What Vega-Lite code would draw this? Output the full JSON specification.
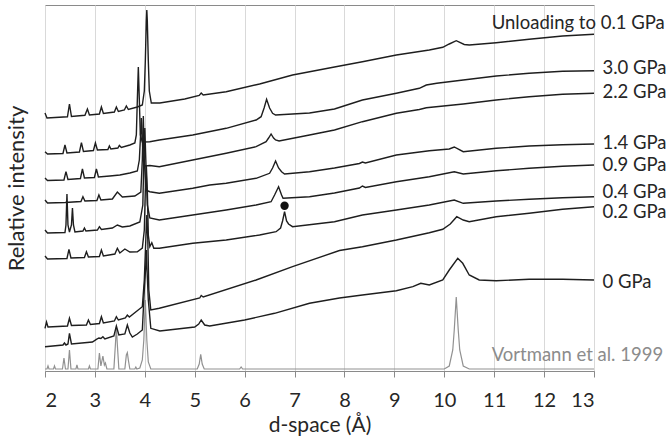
{
  "$schema": "https://vega.github.io/schema/vega-lite/v6.json",
  "width": 549,
  "height": 366,
  "autosize": {"type": "none"},
  "padding": {"left": 45, "top": 5, "right": 73, "bottom": 72},
  "background": "white",
  "config": {"view": {"stroke": "#8a8a8a", "strokeWidth": 1}, "font": "Lato"},
  "datasets": {
    "curves": [
      {"s":"u","x":2,"y":258},{"s":"u","x":2.04,"y":253},{"s":"u","x":2.2,"y":253.5},{"s":"u","x":2.45,"y":254.2},{"s":"u","x":2.49,"y":267},{"s":"u","x":2.53,"y":254.5},{"s":"u","x":2.8,"y":255.7},{"s":"u","x":2.85,"y":262},{"s":"u","x":2.89,"y":256},{"s":"u","x":3.09,"y":257},{"s":"u","x":3.13,"y":264},{"s":"u","x":3.17,"y":257.5},{"s":"u","x":3.39,"y":259},{"s":"u","x":3.43,"y":264},{"s":"u","x":3.47,"y":259.5},{"s":"u","x":3.59,"y":261},{"s":"u","x":3.63,"y":265},{"s":"u","x":3.67,"y":261.5},{"s":"u","x":3.85,"y":264},{"s":"u","x":3.95,"y":266},{"s":"u","x":3.99,"y":280},{"s":"u","x":4.01,"y":310},{"s":"u","x":4.03,"y":350},{"s":"u","x":4.04,"y":361},{"s":"u","x":4.05,"y":350},{"s":"u","x":4.07,"y":310},{"s":"u","x":4.09,"y":280},{"s":"u","x":4.13,"y":268},{"s":"u","x":4.3,"y":268},{"s":"u","x":4.8,"y":272},{"s":"u","x":5.09,"y":275.5},{"s":"u","x":5.13,"y":278},{"s":"u","x":5.17,"y":276},{"s":"u","x":5.63,"y":279.3},{"s":"u","x":6.3,"y":287},{"s":"u","x":6.96,"y":296},{"s":"u","x":7.8,"y":304},{"s":"u","x":8.36,"y":309.3},{"s":"u","x":9.04,"y":316},{"s":"u","x":9.7,"y":321},{"s":"u","x":9.97,"y":323.7},{"s":"u","x":10.1,"y":327},{"s":"u","x":10.24,"y":330.3},{"s":"u","x":10.4,"y":326.5},{"s":"u","x":10.5,"y":326},{"s":"u","x":11.04,"y":328.3},{"s":"u","x":11.7,"y":331.7},{"s":"u","x":12.37,"y":335},{"s":"u","x":13,"y":336.7},

      {"s":"3.0","x":2,"y":219.3},{"s":"3.0","x":2.05,"y":217},{"s":"3.0","x":2.36,"y":217.5},{"s":"3.0","x":2.4,"y":226},{"s":"3.0","x":2.44,"y":218},{"s":"3.0","x":2.69,"y":219},{"s":"3.0","x":2.73,"y":228.3},{"s":"3.0","x":2.77,"y":219.5},{"s":"3.0","x":2.97,"y":220.5},{"s":"3.0","x":3.01,"y":228},{"s":"3.0","x":3.05,"y":221},{"s":"3.0","x":3.26,"y":221.5},{"s":"3.0","x":3.29,"y":225},{"s":"3.0","x":3.32,"y":222},{"s":"3.0","x":3.46,"y":223},{"s":"3.0","x":3.49,"y":225.5},{"s":"3.0","x":3.53,"y":223.5},{"s":"3.0","x":3.7,"y":226},{"s":"3.0","x":3.8,"y":228},{"s":"3.0","x":3.83,"y":236},{"s":"3.0","x":3.85,"y":271},{"s":"3.0","x":3.87,"y":304},{"s":"3.0","x":3.89,"y":271},{"s":"3.0","x":3.91,"y":236},{"s":"3.0","x":3.95,"y":229},{"s":"3.0","x":4.1,"y":229.3},{"s":"3.0","x":4.29,"y":231},{"s":"3.0","x":4.96,"y":236},{"s":"3.0","x":5.63,"y":242.7},{"s":"3.0","x":6.23,"y":251},{"s":"3.0","x":6.33,"y":254.3},{"s":"3.0","x":6.39,"y":263},{"s":"3.0","x":6.44,"y":271.7},{"s":"3.0","x":6.5,"y":263},{"s":"3.0","x":6.56,"y":257.7},{"s":"3.0","x":6.62,"y":256},{"s":"3.0","x":7.3,"y":258},{"s":"3.0","x":7.8,"y":262},{"s":"3.0","x":8.36,"y":271},{"s":"3.0","x":9.04,"y":277.7},{"s":"3.0","x":9.5,"y":282.7},{"s":"3.0","x":9.64,"y":286},{"s":"3.0","x":9.85,"y":287.7},{"s":"3.0","x":10.38,"y":291},{"s":"3.0","x":11.04,"y":295},{"s":"3.0","x":11.7,"y":297.7},{"s":"3.0","x":12.37,"y":299.7},{"s":"3.0","x":13,"y":300.3},

      {"s":"2.2","x":2,"y":193},{"s":"2.2","x":2.05,"y":190.5},{"s":"2.2","x":2.38,"y":191},{"s":"2.2","x":2.42,"y":199.3},{"s":"2.2","x":2.46,"y":191.5},{"s":"2.2","x":2.71,"y":192.5},{"s":"2.2","x":2.75,"y":202},{"s":"2.2","x":2.79,"y":193},{"s":"2.2","x":2.99,"y":193.5},{"s":"2.2","x":3.03,"y":202},{"s":"2.2","x":3.07,"y":194},{"s":"2.2","x":3.3,"y":195},{"s":"2.2","x":3.5,"y":196},{"s":"2.2","x":3.7,"y":198},{"s":"2.2","x":3.85,"y":200},{"s":"2.2","x":3.89,"y":211},{"s":"2.2","x":3.91,"y":231},{"s":"2.2","x":3.93,"y":253},{"s":"2.2","x":3.95,"y":231},{"s":"2.2","x":3.97,"y":211},{"s":"2.2","x":4,"y":205},{"s":"2.2","x":4.1,"y":205.5},{"s":"2.2","x":4.29,"y":204.3},{"s":"2.2","x":4.96,"y":211},{"s":"2.2","x":5.63,"y":217.7},{"s":"2.2","x":6.23,"y":224.3},{"s":"2.2","x":6.43,"y":229.3},{"s":"2.2","x":6.48,"y":233},{"s":"2.2","x":6.53,"y":237},{"s":"2.2","x":6.58,"y":233},{"s":"2.2","x":6.62,"y":231},{"s":"2.2","x":6.69,"y":230},{"s":"2.2","x":7.3,"y":236},{"s":"2.2","x":7.8,"y":241},{"s":"2.2","x":8.36,"y":249.3},{"s":"2.2","x":9.04,"y":257.7},{"s":"2.2","x":9.5,"y":261.5},{"s":"2.2","x":9.64,"y":263.3},{"s":"2.2","x":10.38,"y":267},{"s":"2.2","x":11.04,"y":271},{"s":"2.2","x":11.7,"y":274.3},{"s":"2.2","x":12.37,"y":276.7},{"s":"2.2","x":13,"y":277.7},

      {"s":"1.4","x":2,"y":171},{"s":"1.4","x":2.05,"y":168},{"s":"1.4","x":2.4,"y":168.5},{"s":"1.4","x":2.72,"y":169.5},{"s":"1.4","x":2.76,"y":174.3},{"s":"1.4","x":2.8,"y":170},{"s":"1.4","x":3.04,"y":170.5},{"s":"1.4","x":3.08,"y":176},{"s":"1.4","x":3.12,"y":171},{"s":"1.4","x":3.35,"y":172},{"s":"1.4","x":3.45,"y":179},{"s":"1.4","x":3.55,"y":174},{"s":"1.4","x":3.8,"y":175},{"s":"1.4","x":3.92,"y":179},{"s":"1.4","x":3.95,"y":211},{"s":"1.4","x":3.97,"y":255},{"s":"1.4","x":3.99,"y":211},{"s":"1.4","x":4.02,"y":181},{"s":"1.4","x":4.1,"y":179.3},{"s":"1.4","x":4.29,"y":177.7},{"s":"1.4","x":4.96,"y":182.7},{"s":"1.4","x":5.3,"y":186},{"s":"1.4","x":5.63,"y":187.7},{"s":"1.4","x":6.23,"y":192.7},{"s":"1.4","x":6.5,"y":197.7},{"s":"1.4","x":6.56,"y":203},{"s":"1.4","x":6.62,"y":210},{"s":"1.4","x":6.68,"y":203},{"s":"1.4","x":6.74,"y":199.3},{"s":"1.4","x":6.8,"y":197},{"s":"1.4","x":7.3,"y":199.3},{"s":"1.4","x":7.8,"y":203},{"s":"1.4","x":8.3,"y":207.5},{"s":"1.4","x":8.36,"y":209},{"s":"1.4","x":8.42,"y":208},{"s":"1.4","x":9.04,"y":216},{"s":"1.4","x":9.7,"y":220.3},{"s":"1.4","x":10.1,"y":222},{"s":"1.4","x":10.2,"y":224},{"s":"1.4","x":10.38,"y":219.3},{"s":"1.4","x":11.04,"y":222.7},{"s":"1.4","x":11.7,"y":225},{"s":"1.4","x":12.37,"y":226.3},{"s":"1.4","x":13,"y":227},

      {"s":"0.9","x":2,"y":141},{"s":"0.9","x":2.05,"y":138},{"s":"0.9","x":2.4,"y":138.5},{"s":"0.9","x":2.42,"y":146},{"s":"0.9","x":2.44,"y":177},{"s":"0.9","x":2.46,"y":146},{"s":"0.9","x":2.49,"y":139},{"s":"0.9","x":2.53,"y":146},{"s":"0.9","x":2.55,"y":163},{"s":"0.9","x":2.57,"y":146},{"s":"0.9","x":2.6,"y":139},{"s":"0.9","x":2.76,"y":140},{"s":"0.9","x":2.79,"y":143},{"s":"0.9","x":2.82,"y":140},{"s":"0.9","x":3.05,"y":141},{"s":"0.9","x":3.09,"y":144.3},{"s":"0.9","x":3.13,"y":141.5},{"s":"0.9","x":3.35,"y":143},{"s":"0.9","x":3.45,"y":146},{"s":"0.9","x":3.55,"y":144},{"s":"0.9","x":3.7,"y":145},{"s":"0.9","x":3.9,"y":149},{"s":"0.9","x":3.96,"y":166},{"s":"0.9","x":3.98,"y":211},{"s":"0.9","x":4,"y":243},{"s":"0.9","x":4.02,"y":211},{"s":"0.9","x":4.05,"y":166},{"s":"0.9","x":4.1,"y":153},{"s":"0.9","x":4.29,"y":151},{"s":"0.9","x":4.96,"y":156},{"s":"0.9","x":5.63,"y":161},{"s":"0.9","x":6.23,"y":166},{"s":"0.9","x":6.53,"y":169.3},{"s":"0.9","x":6.6,"y":176},{"s":"0.9","x":6.68,"y":184.3},{"s":"0.9","x":6.74,"y":176},{"s":"0.9","x":6.77,"y":172.7},{"s":"0.9","x":7.3,"y":174.3},{"s":"0.9","x":7.8,"y":178},{"s":"0.9","x":8.3,"y":183},{"s":"0.9","x":8.36,"y":185},{"s":"0.9","x":8.42,"y":183.5},{"s":"0.9","x":9.04,"y":189.3},{"s":"0.9","x":9.7,"y":194.3},{"s":"0.9","x":10.2,"y":199.3},{"s":"0.9","x":10.38,"y":197},{"s":"0.9","x":11.04,"y":200.3},{"s":"0.9","x":11.7,"y":202.7},{"s":"0.9","x":12.37,"y":204.7},{"s":"0.9","x":13,"y":206},

      {"s":"0.4","x":2,"y":115},{"s":"0.4","x":2.05,"y":112},{"s":"0.4","x":2.44,"y":112.5},{"s":"0.4","x":2.48,"y":121.7},{"s":"0.4","x":2.52,"y":113},{"s":"0.4","x":2.79,"y":113.5},{"s":"0.4","x":2.83,"y":119.3},{"s":"0.4","x":2.87,"y":114},{"s":"0.4","x":3.09,"y":114.5},{"s":"0.4","x":3.13,"y":121},{"s":"0.4","x":3.17,"y":115},{"s":"0.4","x":3.4,"y":117},{"s":"0.4","x":3.45,"y":122.7},{"s":"0.4","x":3.5,"y":118},{"s":"0.4","x":3.6,"y":122},{"s":"0.4","x":3.7,"y":119},{"s":"0.4","x":3.85,"y":119.3},{"s":"0.4","x":3.95,"y":123},{"s":"0.4","x":3.99,"y":141},{"s":"0.4","x":4.01,"y":181},{"s":"0.4","x":4.03,"y":206},{"s":"0.4","x":4.05,"y":181},{"s":"0.4","x":4.07,"y":136},{"s":"0.4","x":4.1,"y":124.3},{"s":"0.4","x":4.14,"y":128.3},{"s":"0.4","x":4.18,"y":122.7},{"s":"0.4","x":4.29,"y":122.7},{"s":"0.4","x":4.96,"y":127.7},{"s":"0.4","x":5.63,"y":131},{"s":"0.4","x":6.3,"y":136},{"s":"0.4","x":6.63,"y":139.3},{"s":"0.4","x":6.72,"y":143},{"s":"0.4","x":6.76,"y":150},{"s":"0.4","x":6.8,"y":159.3},{"s":"0.4","x":6.84,"y":150},{"s":"0.4","x":6.88,"y":147},{"s":"0.4","x":6.96,"y":144.3},{"s":"0.4","x":7.8,"y":149.3},{"s":"0.4","x":8.36,"y":156},{"s":"0.4","x":9.04,"y":161},{"s":"0.4","x":9.7,"y":166},{"s":"0.4","x":10.2,"y":171},{"s":"0.4","x":10.38,"y":167.7},{"s":"0.4","x":11.04,"y":170},{"s":"0.4","x":11.7,"y":171.7},{"s":"0.4","x":12.37,"y":173.3},{"s":"0.4","x":13,"y":174.3},

      {"s":"0.2","x":2,"y":42.7},{"s":"0.2","x":2.03,"y":49},{"s":"0.2","x":2.06,"y":44},{"s":"0.2","x":2.45,"y":45},{"s":"0.2","x":2.49,"y":52.7},{"s":"0.2","x":2.53,"y":45.5},{"s":"0.2","x":2.83,"y":46},{"s":"0.2","x":2.87,"y":51},{"s":"0.2","x":2.91,"y":46.5},{"s":"0.2","x":3.09,"y":47.5},{"s":"0.2","x":3.13,"y":54.3},{"s":"0.2","x":3.17,"y":48},{"s":"0.2","x":3.39,"y":50},{"s":"0.2","x":3.43,"y":54.3},{"s":"0.2","x":3.47,"y":51},{"s":"0.2","x":3.61,"y":53},{"s":"0.2","x":3.65,"y":56},{"s":"0.2","x":3.69,"y":54},{"s":"0.2","x":3.95,"y":64.3},{"s":"0.2","x":3.99,"y":91},{"s":"0.2","x":4.02,"y":131},{"s":"0.2","x":4.04,"y":156},{"s":"0.2","x":4.06,"y":131},{"s":"0.2","x":4.08,"y":81},{"s":"0.2","x":4.12,"y":61},{"s":"0.2","x":4.29,"y":62.7},{"s":"0.2","x":5.1,"y":73},{"s":"0.2","x":5.13,"y":75.5},{"s":"0.2","x":5.17,"y":74},{"s":"0.2","x":6.23,"y":91},{"s":"0.2","x":6.96,"y":104.3},{"s":"0.2","x":7.9,"y":120.5},{"s":"0.2","x":8.36,"y":124.3},{"s":"0.2","x":9.04,"y":131},{"s":"0.2","x":9.7,"y":138.3},{"s":"0.2","x":9.97,"y":141.7},{"s":"0.2","x":10.12,"y":147},{"s":"0.2","x":10.25,"y":154.3},{"s":"0.2","x":10.38,"y":151},{"s":"0.2","x":10.5,"y":149.3},{"s":"0.2","x":11.04,"y":154.3},{"s":"0.2","x":11.7,"y":157.7},{"s":"0.2","x":12.37,"y":161.7},{"s":"0.2","x":13,"y":164.3},

      {"s":"0","x":2,"y":24.3},{"s":"0","x":2.36,"y":26},{"s":"0","x":2.39,"y":28},{"s":"0","x":2.42,"y":26},{"s":"0","x":2.46,"y":27},{"s":"0","x":2.49,"y":37.7},{"s":"0","x":2.53,"y":27},{"s":"0","x":2.95,"y":29},{"s":"0","x":3.03,"y":31.7},{"s":"0","x":3.08,"y":33},{"s":"0","x":3.12,"y":32.5},{"s":"0","x":3.16,"y":34.3},{"s":"0","x":3.2,"y":32},{"s":"0","x":3.38,"y":35},{"s":"0","x":3.43,"y":45},{"s":"0","x":3.48,"y":36},{"s":"0","x":3.6,"y":37},{"s":"0","x":3.65,"y":46},{"s":"0","x":3.7,"y":38},{"s":"0","x":3.75,"y":34},{"s":"0","x":3.85,"y":37},{"s":"0","x":3.95,"y":41},{"s":"0","x":3.99,"y":81},{"s":"0","x":4.02,"y":106},{"s":"0","x":4.03,"y":121},{"s":"0","x":4.04,"y":106},{"s":"0","x":4.07,"y":71},{"s":"0","x":4.12,"y":42.7},{"s":"0","x":4.3,"y":40},{"s":"0","x":5,"y":44},{"s":"0","x":5.08,"y":47},{"s":"0","x":5.13,"y":51},{"s":"0","x":5.2,"y":46},{"s":"0","x":5.3,"y":45},{"s":"0","x":6,"y":51},{"s":"0","x":6.6,"y":57.7},{"s":"0","x":7.3,"y":67.7},{"s":"0","x":7.9,"y":73},{"s":"0","x":8.36,"y":76},{"s":"0","x":9.04,"y":80.3},{"s":"0","x":9.37,"y":84.3},{"s":"0","x":9.53,"y":87.7},{"s":"0","x":9.7,"y":86},{"s":"0","x":9.97,"y":91},{"s":"0","x":10.1,"y":101},{"s":"0","x":10.27,"y":112.7},{"s":"0","x":10.37,"y":107.7},{"s":"0","x":10.5,"y":96},{"s":"0","x":10.7,"y":91},{"s":"0","x":11.04,"y":90.3},{"s":"0","x":11.7,"y":91.7},{"s":"0","x":12.37,"y":91.7},{"s":"0","x":13,"y":91},

      {"s":"V","x":2,"y":2},{"s":"V","x":2.04,"y":2},{"s":"V","x":2.06,"y":5},{"s":"V","x":2.08,"y":2},{"s":"V","x":2.17,"y":2},{"s":"V","x":2.19,"y":5},{"s":"V","x":2.21,"y":2},{"s":"V","x":2.35,"y":2},{"s":"V","x":2.38,"y":13},{"s":"V","x":2.41,"y":2},{"s":"V","x":2.46,"y":2},{"s":"V","x":2.49,"y":21},{"s":"V","x":2.52,"y":2},{"s":"V","x":2.62,"y":2},{"s":"V","x":2.64,"y":6},{"s":"V","x":2.66,"y":2},{"s":"V","x":2.87,"y":2},{"s":"V","x":2.89,"y":5},{"s":"V","x":2.91,"y":2},{"s":"V","x":3.06,"y":2},{"s":"V","x":3.09,"y":18},{"s":"V","x":3.12,"y":5},{"s":"V","x":3.16,"y":15},{"s":"V","x":3.19,"y":6},{"s":"V","x":3.21,"y":8},{"s":"V","x":3.24,"y":2},{"s":"V","x":3.38,"y":2},{"s":"V","x":3.41,"y":26},{"s":"V","x":3.43,"y":44},{"s":"V","x":3.45,"y":26},{"s":"V","x":3.48,"y":2},{"s":"V","x":3.6,"y":2},{"s":"V","x":3.63,"y":16},{"s":"V","x":3.65,"y":18.3},{"s":"V","x":3.67,"y":11},{"s":"V","x":3.7,"y":2},{"s":"V","x":3.8,"y":2},{"s":"V","x":3.82,"y":4},{"s":"V","x":3.84,"y":2},{"s":"V","x":3.9,"y":3},{"s":"V","x":3.95,"y":11},{"s":"V","x":3.98,"y":31},{"s":"V","x":4.01,"y":71},{"s":"V","x":4.04,"y":31},{"s":"V","x":4.07,"y":9},{"s":"V","x":4.12,"y":2},{"s":"V","x":5.05,"y":2},{"s":"V","x":5.09,"y":7},{"s":"V","x":5.12,"y":16.7},{"s":"V","x":5.15,"y":7},{"s":"V","x":5.19,"y":2},{"s":"V","x":5.9,"y":2},{"s":"V","x":5.93,"y":4},{"s":"V","x":5.96,"y":2},{"s":"V","x":10,"y":2},{"s":"V","x":10.1,"y":5},{"s":"V","x":10.17,"y":21},{"s":"V","x":10.2,"y":41},{"s":"V","x":10.24,"y":74},{"s":"V","x":10.28,"y":41},{"s":"V","x":10.31,"y":21},{"s":"V","x":10.38,"y":5},{"s":"V","x":10.5,"y":2},{"s":"V","x":13,"y":2}
    ],
    "labels": [
      {"t":"Unloading to 0.1 GPa","lx":10.95,"ly":348},
      {"t":"3.0 GPa","lx":13.17,"ly":303},
      {"t":"2.2 GPa","lx":13.17,"ly":279},
      {"t":"1.4 GPa","lx":13.17,"ly":228},
      {"t":"0.9 GPa","lx":13.17,"ly":206},
      {"t":"0.4 GPa","lx":13.17,"ly":179},
      {"t":"0.2 GPa","lx":13.17,"ly":159},
      {"t":"0 GPa","lx":13.17,"ly":89.3},
      {"t":"Vortmann et al. 1999","lx":10.95,"ly":16}
    ],
    "marker": [{"x":6.8,"y":165.3}]
  },
  "layer": [
    {
      "data": {"name": "curves"},
      "transform": [{"filter": "datum.s === 'V'"}],
      "mark": {"type": "line", "strokeWidth": 1.2, "color": "#919191"},
      "encoding": {
        "x": {"field": "x", "type": "quantitative", "scale": {"domain": [2, 13], "nice": false},
          "axis": {"values": [2,3,4,5,6,7,8,9,10,11,12,13], "grid": true, "gridColor": "#d9d9d9", "gridWidth": 1,
            "tickColor": "#8a8a8a", "tickSize": 6, "domainColor": "#8a8a8a", "labelFontSize": 20, "labelColor": "#262626",
            "labelPadding": 13, "title": "d-space (Å)", "titleFontSize": 21, "titleFontWeight": "normal", "titleColor": "#262626", "titlePadding": 4}},
        "y": {"field": "y", "type": "quantitative", "scale": {"domain": [0, 366], "nice": false, "zero": false},
          "axis": {"title": "Relative intensity", "labels": false, "ticks": false, "domain": false, "grid": false,
            "titleFontSize": 22, "titleFontWeight": "normal", "titleColor": "#262626", "titlePadding": 17}}
      }
    },
    {
      "data": {"name": "curves"},
      "transform": [{"filter": "datum.s !== 'V'"}],
      "mark": {"type": "line", "strokeWidth": 1.4, "color": "#1e1e1e"},
      "encoding": {
        "x": {"field": "x", "type": "quantitative"},
        "y": {"field": "y", "type": "quantitative"},
        "detail": {"field": "s", "type": "nominal"}
      }
    },
    {
      "data": {"name": "marker"},
      "mark": {"type": "point", "filled": true, "size": 70, "color": "#111", "opacity": 1},
      "encoding": {
        "x": {"field": "x", "type": "quantitative"},
        "y": {"field": "y", "type": "quantitative"}
      }
    },
    {
      "data": {"name": "labels"},
      "mark": {"type": "text", "align": "left", "baseline": "middle", "fontSize": 18.5},
      "encoding": {
        "x": {"field": "lx", "type": "quantitative"},
        "y": {"field": "ly", "type": "quantitative"},
        "text": {"field": "t"},
        "color": {"condition": {"test": "datum.t === 'Vortmann et al. 1999'", "value": "#8c8c8c"}, "value": "#262626"}
      }
    }
  ]
}
